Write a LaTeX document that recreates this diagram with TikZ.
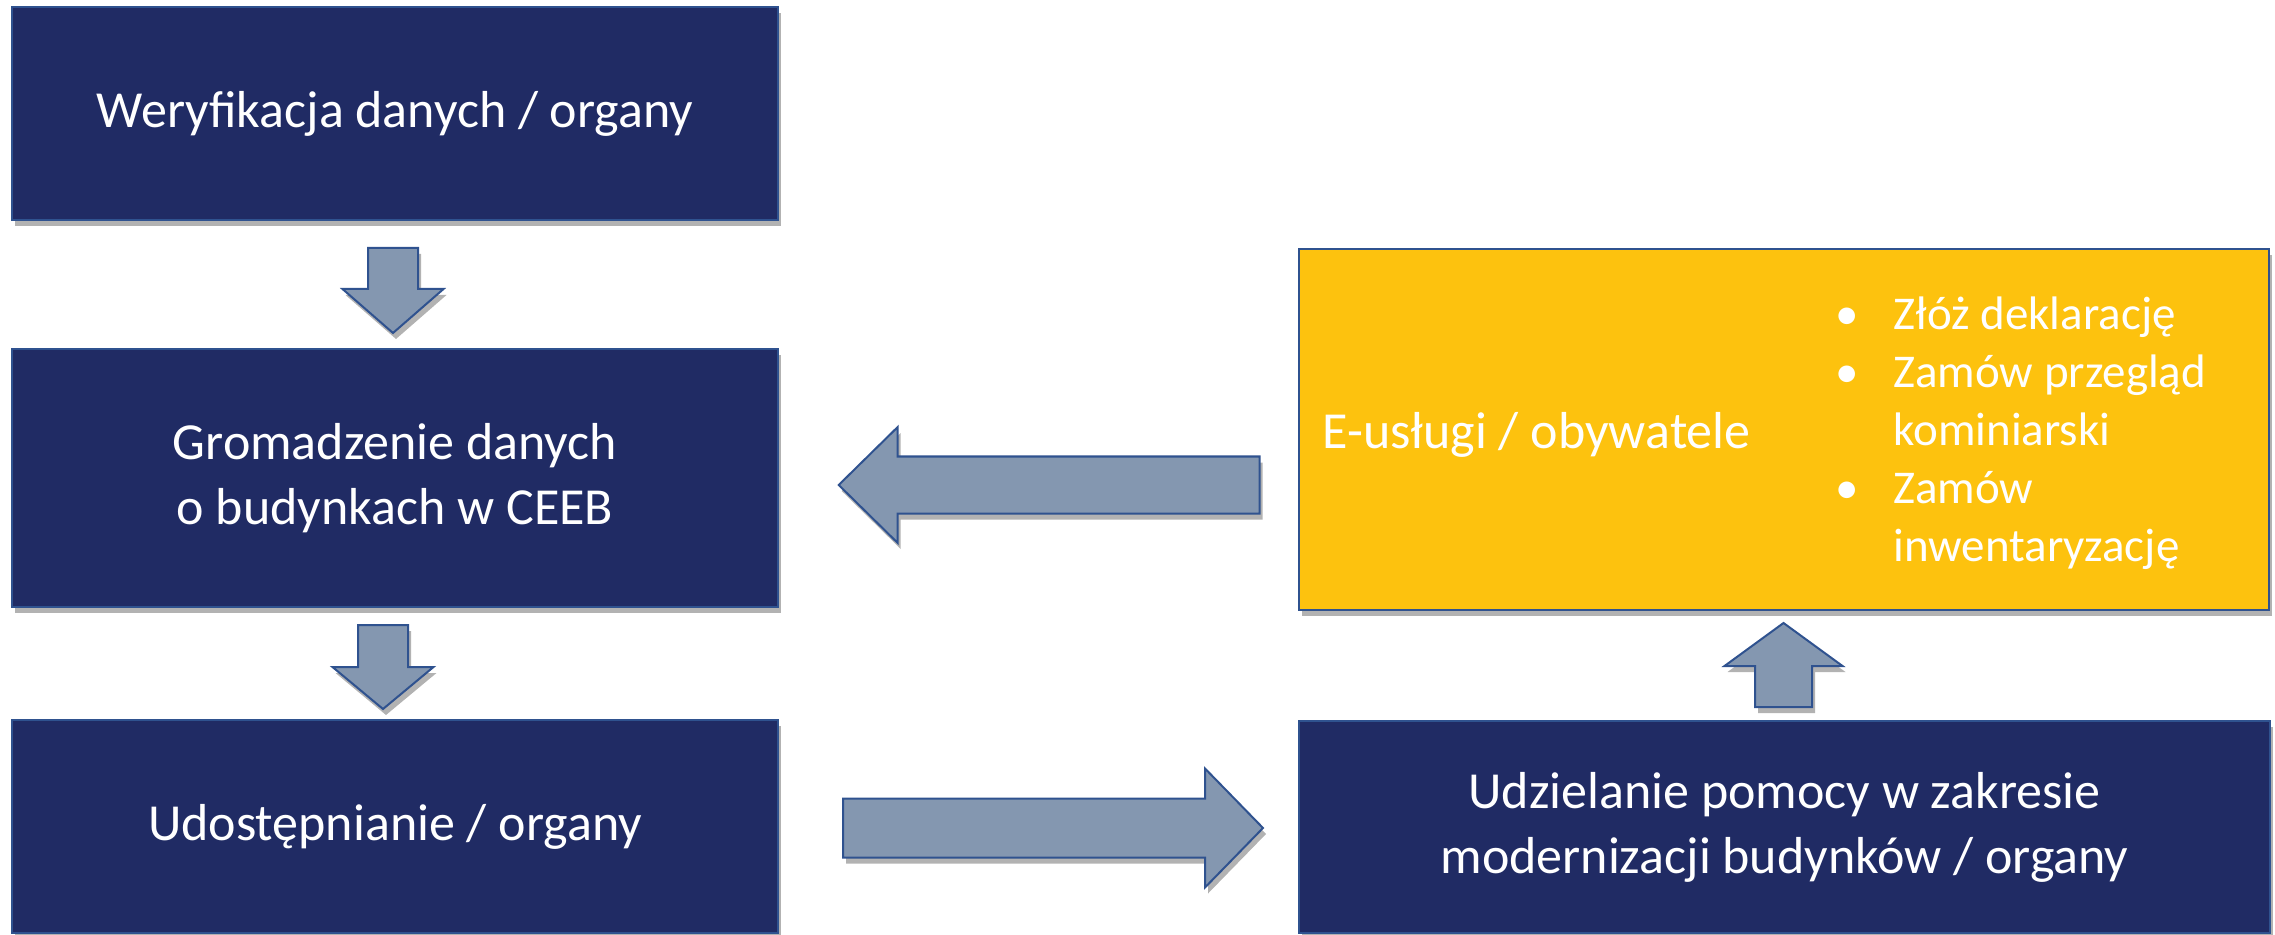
\documentclass[tikz,border=0pt]{standalone}
\usepackage{fontspec}
\setmainfont{Carlito}
\usetikzlibrary{calc,shadows}
\definecolor{navy}{RGB}{32,43,100}
\definecolor{ceebyellow}{RGB}{253,194,14}
\definecolor{edgeblue}{RGB}{47,82,143}
\definecolor{arrowgray}{RGB}{132,151,176}
\tikzset{
  boxshadow/.style={drop shadow={shadow xshift=1.5pt, shadow yshift=-3pt, opacity=0.3, fill=black}},
  navybox/.style={draw=edgeblue, line width=1pt, fill=navy, text=white, align=center,
    inner sep=0pt, boxshadow, font=\fontsize{26}{32.5}\selectfont},
  yellowbox/.style={draw=edgeblue, line width=1.3pt, fill=ceebyellow, inner sep=0pt, boxshadow},
  fatarrow/.style={draw=edgeblue, line width=1pt, fill=arrowgray, line join=miter, boxshadow}
}
% block arrows: tail, length, shaft width, head width, head length (signed)
\newcommand{\harrow}[5]{%
  \draw[fatarrow, shift={#1}] (0,-#3/2) -- ({#2-(#5)},-#3/2) -- ({#2-(#5)},-#4/2) -- (#2,0)
    -- ({#2-(#5)},#4/2) -- ({#2-(#5)},#3/2) -- (0,#3/2) -- cycle;}
\newcommand{\varrow}[5]{%
  \draw[fatarrow, shift={#1}] (-#3/2,0) -- (-#3/2,{#2-(#5)}) -- (-#4/2,{#2-(#5)}) -- (0,#2)
    -- (#4/2,{#2-(#5)}) -- (#3/2,{#2-(#5)}) -- (#3/2,0) -- cycle;}
\begin{document}
\begin{tikzpicture}[x=0.5pt, y=-0.5pt]
  \useasboundingbox (0,0) rectangle (2275,935);
  % left column
  \node[navybox, minimum width=383pt, minimum height=106.5pt] (verif) at (395,113.5) {Weryfikacja danych / organy};
  \node[navybox, minimum width=383pt, minimum height=129pt] (gromadz) at (395,478) {Gromadzenie danych\\o budynkach w CEEB};
  \node[navybox, minimum width=383pt, minimum height=106.5pt] (udost) at (395,826.5) {Udostępnianie / organy};
  % right column
  \node[navybox, minimum width=485.5pt, minimum height=106pt] (pomoc) at (1784.5,827) {Udzielanie pomocy w zakresie\\modernizacji budynków / organy};
  \node[yellowbox, minimum width=485pt, minimum height=180.5pt] (eusl) at (1784,429.5) {};
  \node[anchor=west, inner sep=0pt, text=white, font=\fontsize{26}{32.5}\selectfont] (eutitle) at (1322,435) {E-usługi / obywatele};
  \node[anchor=west, inner sep=0pt, text=white, align=left, font=\fontsize{23.5}{29}\selectfont] (eulist) at (1835,433)
    {\makebox[29pt][l]{•}Złóż deklarację\\
     \makebox[29pt][l]{•}Zamów przegląd\\
     \hspace*{29pt}kominiarski\\
     \makebox[29pt][l]{•}Zamów\\
     \hspace*{29pt}inwentaryzację};
  % arrows
  \varrow{($(verif.south)+(-2,27)$)}{85}{50}{101}{44}
  \varrow{($(gromadz.south)+(-12,17)$)}{84}{50}{101}{42}
  \varrow{($(pomoc.north)+(-1,-13)$)}{-84}{57}{118}{-43}
  \harrow{($(udost.east)+(64,1.5)$)}{420}{59}{119}{58}
  \harrow{($(eusl.west)+(-38,55.5)$)}{-421}{57}{116}{-59}
\end{tikzpicture}
\end{document}
